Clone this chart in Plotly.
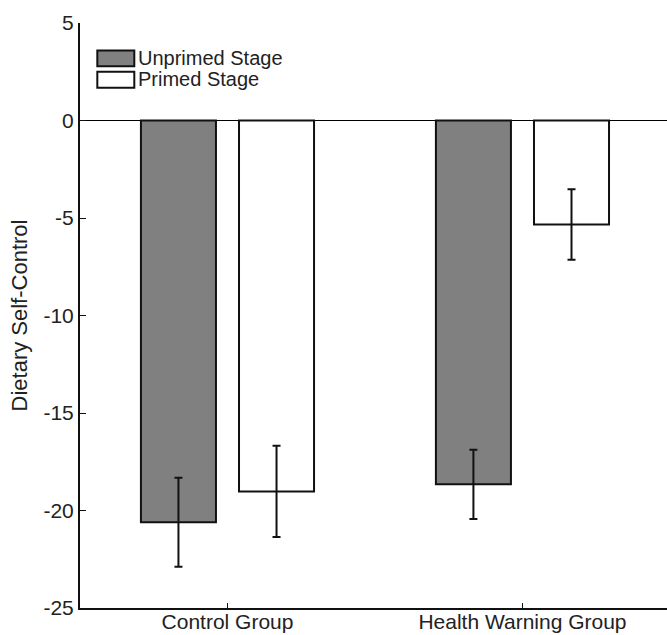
import plotly.graph_objects as go

groups = ["Control Group", "Health Warning Group"]
series_names = ["Unprimed Stage", "Primed Stage"]
unprimed = [-20.6, -18.66]
primed = [-19.02, -5.33]
unprimed_err = [2.28, 1.78]
primed_err = [2.34, 1.81]
y_ticks = [5, 0, -5, -10, -15, -20, -25]

FONT = "Liberation Sans, Arial, Helvetica, sans-serif"
fills = ["#808080", "#ffffff"]

fig = go.Figure()
for name, vals, errs, fill in zip(series_names, [unprimed, primed], [unprimed_err, primed_err], fills):
    fig.add_trace(go.Bar(
        x=groups, y=vals, name=name,
        marker=dict(color=fill, line=dict(color="#111111", width=2)),
        error_y=dict(type="data", array=errs, visible=True, color="#111111", thickness=2, width=4),
        showlegend=False,
    ))

# zero reference line
fig.add_hline(y=0, line=dict(color="#000000", width=1), layer="below")

# manual legend
for i, (name, fill) in enumerate(zip(series_names, fills)):
    y0 = 0.953 - i * 0.0365
    fig.add_shape(type="rect", xref="paper", yref="paper",
                  x0=0.0295, x1=0.0925, y0=y0 - 0.027, y1=y0,
                  fillcolor=fill, line=dict(color="#111111", width=2))
    fig.add_annotation(text=name, xref="paper", yref="paper", x=0.097, y=y0 - 0.0125,
                       xanchor="left", yanchor="middle", showarrow=False, borderpad=0,
                       font=dict(family=FONT, size=20, color="#222222"))

fig.update_layout(
    width=667, height=635,
    margin=dict(l=80, r=0, t=23, b=27, autoexpand=False),
    paper_bgcolor="white", plot_bgcolor="white",
    barmode="group", bargap=0.335, bargroupgap=0.235,
    font=dict(family=FONT, size=20, color="#222222"),
    xaxis=dict(range=[-0.5, 1.49], showline=True, linecolor="#111111", linewidth=2,
               ticks="inside", ticklen=5, tickwidth=1, tickcolor="#111111",
               showgrid=False, zeroline=False, tickfont=dict(size=21), automargin=False,
               ticklabelstandoff=-6),
    yaxis=dict(range=[-25, 5], tickvals=y_ticks, ticktext=[str(v) for v in y_ticks],
               showline=True, linecolor="#111111", linewidth=2,
               ticks="inside", ticklen=6, tickwidth=1, tickcolor="#111111",
               showgrid=False, zeroline=False, tickfont=dict(size=21), automargin=False,
               title=dict(text="Dietary Self-Control", font=dict(size=22), standoff=10)),
)

fig.write_html("out.html")
